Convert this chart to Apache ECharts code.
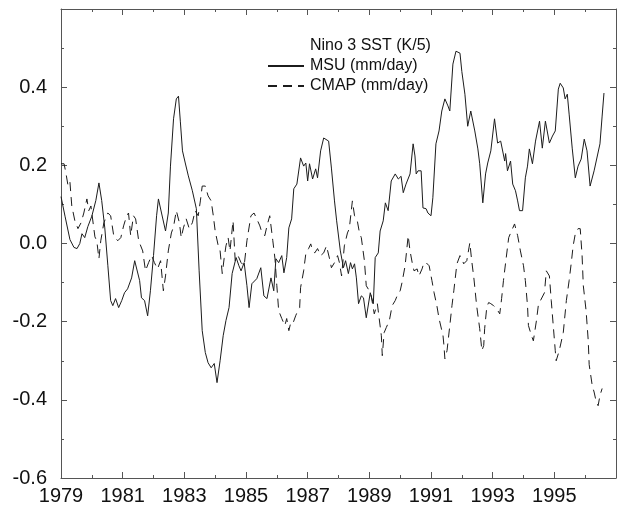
<!DOCTYPE html>
<html><head><meta charset="utf-8">
<script src="https://cdn.jsdelivr.net/npm/echarts@6/dist/echarts.min.js"></script>
<style>html,body{margin:0;padding:0;background:#fff}#c{width:619px;height:506px}</style>
</head><body><div id="c"></div>
<script>
const seriesNames = ['Nino 3 SST (K/5)', 'MSU (mm/day)', 'CMAP (mm/day)'];
const xTickLabels = ['1979','1981','1983','1985','1987','1989','1991','1993','1995'];
const yTickLabels = ['-0.6','-0.4','-0.2','0.0','0.2','0.4'];

const sstYears = [];
const sstValues = [];

const msuYears = [
1979.00,1979.13,1979.29,1979.42,1979.52,1979.61,1979.68,1979.77,1979.87,1980.00,
1980.13,1980.23,1980.32,1980.42,1980.52,1980.61,1980.68,1980.77,1980.87,1980.97,
1981.06,1981.16,1981.29,1981.39,1981.45,1981.55,1981.61,1981.71,1981.81,1981.90,
1982.00,1982.10,1982.16,1982.26,1982.39,1982.48,1982.55,1982.65,1982.74,1982.81,
1982.87,1982.94,1983.03,1983.13,1983.26,1983.39,1983.48,1983.58,1983.68,1983.77,
1983.87,1983.97,1984.06,1984.16,1984.26,1984.35,1984.45,1984.55,1984.68,1984.77,
1984.84,1984.94,1985.03,1985.10,1985.19,1985.35,1985.48,1985.58,1985.68,1985.81,
1985.90,1985.97,1986.06,1986.16,1986.23,1986.32,1986.39,1986.48,1986.55,1986.65,
1986.77,1986.87,1986.94,1987.00,1987.06,1987.16,1987.26,1987.32,1987.42,1987.52,
1987.58,1987.68,1987.77,1987.87,1987.94,1988.06,1988.16,1988.23,1988.32,1988.39,
1988.45,1988.52,1988.58,1988.65,1988.74,1988.81,1988.90,1989.03,1989.13,1989.19,
1989.29,1989.35,1989.45,1989.52,1989.61,1989.71,1989.84,1989.94,1990.03,1990.10,
1990.19,1990.32,1990.42,1990.48,1990.52,1990.58,1990.68,1990.74,1990.84,1990.90,
1991.00,1991.06,1991.16,1991.26,1991.35,1991.45,1991.55,1991.61,1991.71,1991.81,
1991.94,1992.00,1992.10,1992.19,1992.29,1992.42,1992.52,1992.58,1992.68,1992.77,
1992.84,1992.94,1993.06,1993.16,1993.26,1993.39,1993.42,1993.48,1993.58,1993.65,
1993.74,1993.81,1993.87,1993.97,1994.06,1994.13,1994.19,1994.29,1994.39,1994.52,
1994.61,1994.71,1994.84,1994.94,1995.03,1995.13,1995.19,1995.29,1995.35,1995.42,
1995.48,1995.58,1995.68,1995.77,1995.87,1995.97,1996.06,1996.16,1996.29,1996.35,
1996.48,1996.55,1996.61];
const msuValues = [
0.12,0.07,0.01,-0.01,-0.013,0.0,0.025,0.015,0.043,0.07,
0.11,0.155,0.11,0.04,-0.057,-0.146,-0.159,-0.141,-0.164,-0.146,
-0.126,-0.116,-0.088,-0.044,-0.049,-0.095,-0.139,-0.146,-0.185,-0.121,
-0.031,0.071,0.114,0.078,0.032,0.078,0.198,0.319,0.37,0.377,
0.313,0.237,0.206,0.173,0.135,0.089,-0.07,-0.223,-0.279,-0.305,
-0.318,-0.307,-0.356,-0.30,-0.236,-0.197,-0.164,-0.077,-0.036,-0.057,
-0.07,-0.049,-0.108,-0.164,-0.103,-0.09,-0.062,-0.134,-0.141,-0.088,
-0.121,-0.039,-0.049,-0.031,-0.075,-0.036,0.04,0.063,0.14,0.152,
0.219,0.198,0.206,0.16,0.204,0.165,0.191,0.168,0.237,0.27,
0.275,0.262,0.193,0.109,0.058,-0.019,-0.062,-0.044,-0.077,-0.049,
-0.065,-0.052,-0.088,-0.154,-0.134,-0.139,-0.19,-0.126,-0.154,-0.036,
-0.024,0.032,0.058,0.104,0.084,0.16,0.178,0.165,0.172,0.13,
0.152,0.178,0.255,0.224,0.178,0.186,0.186,0.091,0.089,0.078,
0.071,0.117,0.255,0.288,0.339,0.37,0.352,0.339,0.459,0.492,
0.487,0.44,0.382,0.30,0.339,0.288,0.242,0.204,0.104,0.178,
0.206,0.237,0.319,0.257,0.262,0.211,0.23,0.186,0.211,0.152,
0.135,0.109,0.084,0.084,0.168,0.198,0.242,0.204,0.262,0.313,
0.244,0.313,0.257,0.275,0.288,0.395,0.41,0.398,0.37,0.382,
0.331,0.244,0.168,0.198,0.216,0.267,0.237,0.147,0.186,0.186,
0.255,0.326,0.385];

const cmapYears = [
1979.00,1979.10,1979.16,1979.23,1979.29,1979.35,1979.45,1979.55,1979.65,1979.74,
1979.84,1979.90,1979.97,1980.03,1980.10,1980.16,1980.23,1980.29,1980.39,1980.52,
1980.61,1980.71,1980.84,1980.94,1981.03,1981.13,1981.19,1981.26,1981.35,1981.42,
1981.52,1981.65,1981.74,1981.84,1981.94,1982.03,1982.13,1982.23,1982.32,1982.39,
1982.48,1982.58,1982.65,1982.74,1982.84,1982.90,1982.97,1983.06,1983.16,1983.26,
1983.35,1983.45,1983.52,1983.58,1983.68,1983.77,1983.87,1983.94,1984.00,1984.10,
1984.16,1984.23,1984.29,1984.35,1984.42,1984.48,1984.58,1984.65,1984.74,1984.84,
1984.94,1985.03,1985.16,1985.26,1985.35,1985.45,1985.52,1985.61,1985.68,1985.77,
1985.87,1985.94,1986.00,1986.06,1986.16,1986.26,1986.32,1986.39,1986.45,1986.52,
1986.61,1986.68,1986.74,1986.77,1986.87,1986.94,1987.03,1987.10,1987.16,1987.23,
1987.32,1987.42,1987.52,1987.61,1987.71,1987.77,1987.87,1987.97,1988.03,1988.10,
1988.19,1988.29,1988.35,1988.45,1988.52,1988.61,1988.68,1988.74,1988.84,1988.90,
1989.00,1989.06,1989.16,1989.26,1989.32,1989.39,1989.42,1989.48,1989.55,1989.65,
1989.74,1989.84,1989.90,1990.00,1990.06,1990.16,1990.26,1990.32,1990.39,1990.45,
1990.55,1990.61,1990.71,1990.77,1990.84,1990.94,1991.03,1991.10,1991.19,1991.26,
1991.32,1991.39,1991.42,1991.45,1991.52,1991.61,1991.68,1991.74,1991.84,1991.94,
1992.00,1992.06,1992.16,1992.26,1992.32,1992.39,1992.48,1992.58,1992.65,1992.71,
1992.74,1992.81,1992.87,1992.94,1993.03,1993.13,1993.23,1993.29,1993.35,1993.42,
1993.52,1993.61,1993.71,1993.81,1993.90,1994.00,1994.06,1994.13,1994.16,1994.26,
1994.32,1994.42,1994.48,1994.55,1994.68,1994.74,1994.84,1994.90,1994.97,1995.03,
1995.06,1995.16,1995.29,1995.39,1995.48,1995.55,1995.61,1995.68,1995.77,1995.84,
1995.90,1995.94,1996.03,1996.10,1996.13,1996.23,1996.29,1996.35,1996.42,1996.48,
1996.55];
const cmapValues = [
0.204,0.204,0.18,0.147,0.157,0.096,0.058,0.038,0.053,0.078,
0.114,0.084,0.096,0.091,0.017,0.007,-0.039,0.007,0.053,0.078,
0.071,0.02,0.007,0.015,0.045,0.071,0.078,0.02,0.071,0.063,
0.007,-0.019,-0.07,-0.049,-0.031,-0.049,-0.065,-0.044,-0.121,-0.083,
-0.019,0.027,0.043,0.084,0.053,0.015,0.04,0.063,0.038,0.053,
0.084,0.071,0.109,0.147,0.147,0.122,0.109,0.071,0.032,-0.006,
-0.019,-0.077,-0.039,-0.006,0.015,-0.019,0.058,-0.044,-0.031,-0.049,
-0.057,0.007,0.071,0.078,0.063,0.045,0.027,0.02,0.045,0.071,
0.007,-0.039,-0.108,-0.172,-0.192,-0.21,-0.192,-0.223,-0.203,-0.205,
-0.185,-0.172,-0.164,-0.113,-0.07,-0.026,-0.013,-0.001,-0.019,-0.024,
-0.013,-0.031,-0.024,-0.006,-0.039,-0.062,-0.049,-0.031,-0.049,-0.083,
-0.006,0.027,0.038,0.109,0.071,0.058,0.027,0.015,-0.044,-0.108,
-0.121,-0.134,-0.18,-0.154,-0.192,-0.236,-0.287,-0.228,-0.215,-0.197,
-0.159,-0.146,-0.134,-0.121,-0.10,-0.057,0.02,-0.019,-0.049,-0.07,
-0.065,-0.083,-0.065,-0.049,-0.049,-0.057,-0.095,-0.126,-0.159,-0.192,
-0.197,-0.236,-0.261,-0.295,-0.274,-0.21,-0.159,-0.121,-0.052,-0.031,
-0.039,-0.052,-0.044,0.002,-0.044,-0.088,-0.159,-0.218,-0.274,-0.261,
-0.218,-0.162,-0.151,-0.154,-0.159,-0.167,-0.18,-0.141,-0.095,-0.049,
0.015,0.032,0.05,0.02,-0.019,-0.057,-0.095,-0.159,-0.21,-0.236,
-0.249,-0.197,-0.159,-0.146,-0.126,-0.07,-0.083,-0.146,-0.215,-0.274,
-0.30,-0.274,-0.228,-0.146,-0.095,-0.049,-0.006,0.025,0.038,0.038,
-0.031,-0.108,-0.172,-0.249,-0.31,-0.364,-0.38,-0.402,-0.415,-0.389,
-0.371];

function pairs(xs, ys) { return xs.map((x, i) => [x, ys[i]]); }

const FONT = '"Liberation Sans", Arial, Helvetica, sans-serif';
const AX = '#555';
const LINE = '#1c1c1c';

const xBase = {
  type: 'value', min: 1979, max: 1997, interval: 2,
  axisLine: { show: true, onZero: false, lineStyle: { color: AX, width: 1 } },
  axisTick: { show: true, inside: true, length: 6, lineStyle: { color: AX } },
  minorTick: { show: true, splitNumber: 2, length: 3, lineStyle: { color: AX } },
  splitLine: { show: false }
};
const yBase = {
  type: 'value', min: -0.6, max: 0.6, interval: 0.2,
  axisLine: { show: true, onZero: false, lineStyle: { color: AX, width: 1 } },
  axisTick: { show: true, inside: true, length: 6, lineStyle: { color: AX } },
  minorTick: { show: true, splitNumber: 2, length: 3, lineStyle: { color: AX } },
  splitLine: { show: false }
};

const chart = echarts.init(document.getElementById('c'), null, { renderer: 'canvas' });
chart.setOption({
  animation: false,
  backgroundColor: '#fff',
  grid: { left: 61, top: 9, width: 558, height: 469, containLabel: false },
  legend: {
    orient: 'vertical', left: 262, top: 33, itemWidth: 36, itemHeight: 14, itemGap: 4,
    data: seriesNames,
    itemStyle: { opacity: 0 },
    textStyle: { fontFamily: FONT, fontSize: 16, color: '#111', padding: [0, 0, 0, 1] }
  },
  xAxis: [
    Object.assign({}, xBase, { position: 'bottom',
      axisLabel: { show: true, margin: 8, fontFamily: FONT, fontSize: 20, color: '#111',
        formatter: v => { const s = String(Math.round(v)); return xTickLabels.includes(s) ? s : ''; } } }),
    Object.assign({}, xBase, { position: 'top', axisLabel: { show: false } })
  ],
  yAxis: [
    Object.assign({}, yBase, { position: 'left',
      axisLabel: { show: true, margin: 14, fontFamily: FONT, fontSize: 20, color: '#111',
        formatter: v => { let s = (Math.round(v * 10) / 10).toFixed(1); if (s === '-0.0') s = '0.0'; return yTickLabels.includes(s) ? s : ''; } } }),
    Object.assign({}, yBase, { position: 'right', axisLabel: { show: false } })
  ],
  series: [
    { name: seriesNames[0], type: 'line', data: pairs(sstYears, sstValues), symbol: 'none',
      lineStyle: { color: LINE, width: 1, type: 'dotted', opacity: 0 }, itemStyle: { color: LINE, opacity: 0 } },
    { name: seriesNames[1], type: 'line', data: pairs(msuYears, msuValues), symbol: 'none',
      lineStyle: { color: LINE, width: 1, type: 'solid' }, itemStyle: { color: LINE } },
    { name: seriesNames[2], type: 'line', data: pairs(cmapYears, cmapValues), symbol: 'none',
      lineStyle: { color: LINE, width: 1, type: [9, 6] }, itemStyle: { color: LINE } }
  ]
});
</script>
</body></html>
